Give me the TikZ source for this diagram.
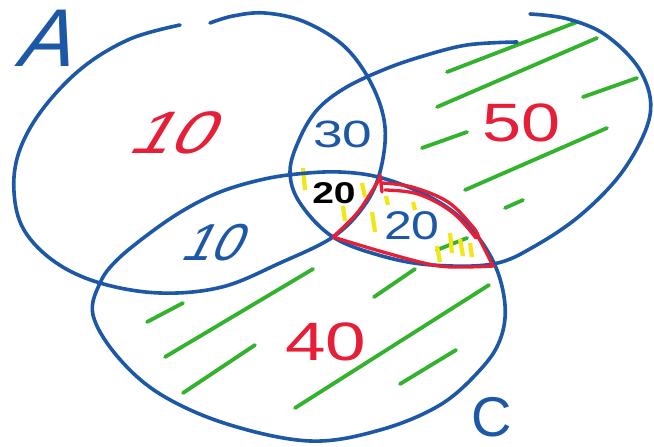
\documentclass[tikz,border=0pt]{standalone}
\usepackage{fontspec}
\setmainfont{Liberation Sans}
\definecolor{penblue}{RGB}{28,88,165}
\definecolor{penred}{RGB}{230,30,55}
\definecolor{pengreen}{RGB}{50,178,45}
\definecolor{penyellow}{RGB}{242,230,20}
\tikzset{
  blueline/.style={draw=penblue, line width=3.6pt, line cap=round, line join=round},
  redline/.style={draw=penred, line width=3.3pt, line cap=round, line join=round},
  hatch/.style={draw=pengreen, line width=3.8pt, line cap=round},
  ytick/.style={draw=penyellow, line width=4.2pt},
  num/.style={inner sep=0pt},
}
\begin{document}
\begin{tikzpicture}[x=1pt,y=-1pt]
\useasboundingbox[fill=white] (0,0) rectangle (654,447);
% green hatching in B only
\draw[hatch] (447,72) -- (577,22);
\draw[hatch] (437,107) -- (597,38);
\draw[hatch] (422,148) -- (467,132);
\draw[hatch] (583,97) -- (637,78);
\draw[hatch] (465,190) -- (607,128);
\draw[hatch] (505,208) -- (523,200);
% green hatching in C only
\draw[hatch] (147,322) -- (183,303);
\draw[hatch] (165,357) -- (313,269);
\draw[hatch] (183,393) -- (255,345);
\draw[hatch] (295,408) -- (489,285);
\draw[hatch] (400,384) -- (456,350);
\draw[hatch] (374,297) -- (415,269);
\draw[hatch] (437,250) -- (467,238);
% yellow ticks
\draw[ytick] (303,168) -- (305,190);
\draw[ytick] (343,206) -- (345,221);
\draw[ytick] (362,183) -- (365,197);
\draw[ytick] (372,212) -- (375,232);
\draw[ytick] (386,196) -- (388,205);
\draw[ytick] (413,202) -- (415,210);
\draw[ytick] (437,246) -- (440,262);
\draw[ytick] (450,233) -- (452,253);
\draw[ytick] (460,239) -- (463,256);
\draw[ytick] (470,243) -- (472,257);
% set A
\draw[blueline] plot[smooth, tension=0.6] coordinates {
 (180,25) (130,39) (82,68) (42,110) (19,152) (14,192) (24,230) (55,262)
 (100,283) (160,293) (222,287) (280,263) (333,237) (364,206) (380,172)
 (385,127) (372,85) (345,47) (305,22) (265,13) (233,16) (210,23)};
% set B
\draw[blueline] plot[smooth, tension=0.6] coordinates {
 (517,42) (467,45) (420,57) (383,70) (345,88) (317,110) (299,140) (290,172)
 (300,203) (333,237) (382,256) (432,265) (493,264) (535,246) (583,213)
 (625,168) (650,115) (641,72) (607,36) (568,19) (530,14)};
% set C
\draw[blueline] plot[smooth cycle, tension=0.6] coordinates {
 (100,283) (117,260) (150,233) (184,210) (220,192) (260,180) (297,174)
 (340,172) (382,178) (430,197) (467,224) (494,263) (505,305) (500,340)
 (480,370) (440,405) (380,430) (310,441) (227,424) (160,394) (117,356) (93,315)};
% red lens outline
\draw[redline] plot[smooth, tension=0.5] coordinates {(333,237) (358,212) (380,178)};
\draw[redline] (380,175) -- (382,192);
\draw[redline] plot[smooth, tension=0.6] coordinates {(382,183) (412,187) (448,202) (473,227) (478,236)};
\draw[redline] plot[smooth, tension=0.6] coordinates {(385,190) (418,194) (452,212) (476,238)};
\draw[redline] (476,232) -- (492,264);
\draw[redline] plot[smooth, tension=0.6] coordinates {(494,266) (462,267) (433,265) (383,252) (333,237)};
% labels
\node[num, text=penblue, xslant=0.35, font=\fontsize{82}{82}\selectfont] (lA) at (52,38) {A};
\node[num, text=penblue, font=\fontsize{56}{56}\selectfont] (lC) at (492,417) {C};
\node[num, text=penred, xslant=0.6, xscale=1.2, font=\fontsize{60}{60}\selectfont] (n10r) at (179,133) {10};
\node[num, text=penblue, xscale=1.4, font=\fontsize{38}{38}\selectfont] (n30) at (343,134) {30};
\node[num, text=black, xscale=1.3, font=\bfseries\fontsize{30}{30}\selectfont] (n20k) at (334,193) {20};
\node[num, text=penblue, xscale=1.25, font=\fontsize{40}{40}\selectfont] (n20b) at (412,226) {20};
\node[num, text=penred, xscale=1.3, font=\fontsize{54}{54}\selectfont] (n50) at (522,123) {50};
\node[num, text=penblue, xslant=0.5, font=\fontsize{52}{52}\selectfont] (n10b) at (217,243) {10};
\node[num, text=penred, xscale=1.35, font=\fontsize{54}{54}\selectfont] (n40) at (326,342) {40};
\end{tikzpicture}
\end{document}
